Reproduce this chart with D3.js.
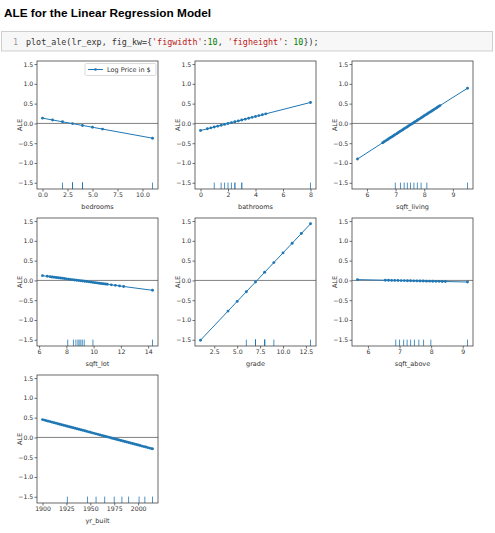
<!DOCTYPE html>
<html>
<head>
<meta charset="utf-8">
<script src="https://cdn.jsdelivr.net/npm/d3@7"></script>
<style>
  body { margin: 0; background: #fff; }
  svg text { font-family: "DejaVu Sans", sans-serif; }
</style>
</head>
<body>
<div id="chart"></div>
<script>
const WIDTH = 495;
const HEIGHT = 533;
const LINE_COLOR = "#1f77b4";
const AX_W = 121;
const AX_H = 128;
const COL_LEFT = [37, 195, 352];
const ROW_TOP = [61, 218, 375];

// ---- data ----
const features = ["bedrooms", "bathrooms", "sqft_living", "sqft_lot", "grade", "sqft_above", "yr_built"];

const bedroomsX = [0, 1, 2, 3, 4, 5, 6, 11];
const bedroomsAle = [0.133, 0.087, 0.041, -0.005, -0.051, -0.097, -0.143, -0.373];
const bedroomsRug = [2, 3, 3, 3, 3, 4, 4, 4, 4, 11];

const bathroomsX = [0, 0.5, 0.75, 1, 1.25, 1.5, 1.75, 2, 2.25, 2.5, 2.75, 3, 3.25, 3.5, 3.75, 4, 4.25, 4.5, 4.75, 8];
const bathroomsAle = [-0.180, -0.136, -0.113, -0.091, -0.069, -0.047, -0.025, -0.003, 0.020, 0.042,
  0.064, 0.086, 0.108, 0.131, 0.153, 0.175, 0.197, 0.219, 0.242, 0.530];
const bathroomsRug = [1, 1.5, 1.75, 2, 2.25, 2.5, 2.5, 3, 3, 8];

const sqftLivingX = [5.67, 6.55, 6.60, 6.65, 6.70, 6.75, 6.80, 6.85, 6.90, 6.95, 7.00, 7.05, 7.10, 7.15,
  7.20, 7.25, 7.30, 7.35, 7.40, 7.45, 7.50, 7.55, 7.60, 7.65, 7.70, 7.75, 7.80, 7.85, 7.90, 7.95,
  8.00, 8.05, 8.10, 8.15, 8.20, 8.25, 8.30, 8.35, 8.40, 8.45, 8.50, 8.55, 9.51];
const sqftLivingAle = [-0.900, -0.487, -0.464, -0.441, -0.417, -0.394, -0.370, -0.347, -0.323, -0.300,
  -0.276, -0.253, -0.230, -0.206, -0.183, -0.159, -0.136, -0.112, -0.089, -0.066, -0.042, -0.019,
  0.005, 0.028, 0.052, 0.075, 0.098, 0.122, 0.145, 0.169, 0.192, 0.216, 0.239, 0.263, 0.286,
  0.309, 0.333, 0.356, 0.380, 0.403, 0.427, 0.450, 0.890];
const sqftLivingRug = [6.99, 7.17, 7.30, 7.41, 7.52, 7.64, 7.76, 7.89, 8.09, 9.51];

const sqftLotX = [6.25, 6.6, 6.8, 6.95, 7.1, 7.25, 7.4, 7.55, 7.7, 7.85, 8.0, 8.15, 8.3, 8.45, 8.6,
  8.75, 8.9, 9.05, 9.2, 9.35, 9.5, 9.65, 9.8, 9.95, 10.1, 10.25, 10.4, 10.55, 10.7, 10.85, 11.0,
  11.3, 11.6, 11.9, 12.2, 14.32];
const sqftLotAle = [0.120, 0.104, 0.095, 0.088, 0.081, 0.074, 0.067, 0.060, 0.054, 0.047, 0.040,
  0.033, 0.026, 0.019, 0.012, 0.005, -0.002, -0.008, -0.015, -0.022, -0.029, -0.036, -0.043,
  -0.050, -0.057, -0.063, -0.070, -0.077, -0.084, -0.091, -0.098, -0.112, -0.125, -0.139, -0.153, -0.250];
const sqftLotRug = [8.10, 8.52, 8.70, 8.85, 8.94, 9.06, 9.17, 9.31, 9.95, 14.32];

const gradeX = [1, 4, 5, 6, 7, 8, 9, 10, 11, 12, 13];
const gradeAle = [-1.51, -0.775, -0.53, -0.285, -0.04, 0.205, 0.45, 0.695, 0.94, 1.185, 1.43];
const gradeRug = [6, 7, 7, 7, 7, 8, 8, 8, 9, 13];

const sqftAboveX = [5.67, 6.55, 6.65, 6.75, 6.85, 6.95, 7.05, 7.15, 7.25, 7.35, 7.45, 7.55, 7.65,
  7.75, 7.85, 7.95, 8.05, 8.15, 8.25, 8.35, 8.45, 9.15];
const sqftAboveAle = [0.020, 0.005, 0.003, 0.001, 0.000, -0.002, -0.004, -0.005, -0.007, -0.009,
  -0.011, -0.012, -0.014, -0.016, -0.018, -0.019, -0.021, -0.023, -0.024, -0.026, -0.028, -0.040];
const sqftAboveRug = [6.88, 7.00, 7.13, 7.24, 7.35, 7.47, 7.61, 7.76, 7.99, 9.15];

const yrBuiltX = [1900, 1902, 1904, 1906, 1908, 1910, 1912, 1914, 1916, 1918, 1920, 1922, 1924, 1926,
  1928, 1930, 1932, 1934, 1936, 1938, 1940, 1942, 1944, 1946, 1948, 1950, 1952, 1954, 1956, 1958,
  1960, 1962, 1964, 1966, 1968, 1970, 1972, 1974, 1976, 1978, 1980, 1982, 1984, 1986, 1988, 1990,
  1992, 1994, 1996, 1998, 2000, 2002, 2004, 2006, 2008, 2010, 2012, 2014, 2015];
const yrBuiltAle = [0.450, 0.437, 0.424, 0.411, 0.399, 0.386, 0.373, 0.360, 0.347, 0.334, 0.321,
  0.309, 0.296, 0.283, 0.270, 0.257, 0.244, 0.231, 0.219, 0.206, 0.193, 0.180, 0.167, 0.154,
  0.141, 0.129, 0.116, 0.103, 0.090, 0.077, 0.064, 0.051, 0.038, 0.026, 0.013, 0.000, -0.013,
  -0.026, -0.039, -0.052, -0.064, -0.077, -0.090, -0.103, -0.116, -0.129, -0.142, -0.154, -0.167,
  -0.180, -0.193, -0.206, -0.219, -0.232, -0.244, -0.257, -0.270, -0.283, -0.289];
const yrBuiltRug = [1926, 1947, 1956, 1965, 1975, 1983, 1990, 2001, 2007, 2015];

// tick values
const bedroomsTicks = [0, 2.5, 5, 7.5, 10];
const bathroomsTicks = [0, 2, 4, 6, 8];
const sqftLivingTicks = [6, 7, 8, 9];
const sqftLotTicks = [6, 8, 10, 12, 14];
const gradeTicks = [2.5, 5, 7.5, 10, 12.5];
const sqftAboveTicks = [6, 7, 8, 9];
const yrBuiltTicks = [1900, 1925, 1950, 1975, 2000];
const aleTicks = [-1.5, -1.0, -0.5, 0, 0.5, 1.0, 1.5];

const panels = [
  { x: bedroomsX, y: bedroomsAle, rug: bedroomsRug, ticks: bedroomsTicks, fmt: ".1f" },
  { x: bathroomsX, y: bathroomsAle, rug: bathroomsRug, ticks: bathroomsTicks, fmt: "d" },
  { x: sqftLivingX, y: sqftLivingAle, rug: sqftLivingRug, ticks: sqftLivingTicks, fmt: "d" },
  { x: sqftLotX, y: sqftLotAle, rug: sqftLotRug, ticks: sqftLotTicks, fmt: "d" },
  { x: gradeX, y: gradeAle, rug: gradeRug, ticks: gradeTicks, fmt: ".1f" },
  { x: sqftAboveX, y: sqftAboveAle, rug: sqftAboveRug, ticks: sqftAboveTicks, fmt: "d" },
  { x: yrBuiltX, y: yrBuiltAle, rug: yrBuiltRug, ticks: yrBuiltTicks, fmt: "d" }
].map((p, i) => ({ ...p, name: features[i], row: Math.floor(i / 3), col: i % 3 }));

// matplotlib-style 5% margins
function padded(ext) {
  const m = (ext[1] - ext[0]) * 0.05;
  return [ext[0] - m, ext[1] + m];
}

const yDomain = padded(d3.extent(panels.flatMap(p => p.y)));

const svg = d3.select("#chart")
  .append("svg")
  .attr("width", WIDTH)
  .attr("height", HEIGHT);

// ---- notebook header ----
svg.append("text")
  .attr("x", 4)
  .attr("y", 16.5)
  .style("font-family", "'Liberation Sans', Arial, sans-serif")
  .style("font-weight", "bold")
  .style("font-size", "11.8px")
  .attr("fill", "#000")
  .text("ALE for the Linear Regression Model");

svg.append("rect")
  .attr("x", 1.5).attr("y", 31.5)
  .attr("width", 491).attr("height", 19.5)
  .attr("fill", "#f7f7f7")
  .attr("stroke", "#cfcfcf");

svg.append("text")
  .attr("x", 13).attr("y", 44.5)
  .style("font-family", "'DejaVu Sans Mono', monospace")
  .style("font-size", "8.4px")
  .attr("fill", "#999")
  .text("1");

const codeParts = [
  ["plot_ale(lr_exp, fig_kw={", "#333"],
  ["'figwidth'", "#ba2121"],
  [":", "#333"],
  ["10", "#008000"],
  [", ", "#333"],
  ["'figheight'", "#ba2121"],
  [": ", "#333"],
  ["10", "#008000"],
  ["});", "#333"]
];
svg.append("text")
  .attr("x", 26).attr("y", 44.5)
  .style("font-family", "'DejaVu Sans Mono', monospace")
  .style("font-size", "8.4px")
  .attr("xml:space", "preserve")
  .style("white-space", "pre")
  .selectAll("tspan")
  .data(codeParts)
  .join("tspan")
  .attr("fill", d => d[1])
  .text(d => d[0]);

// ---- panels ----
panels.forEach((p, i) => {
  const g = svg.append("g")
    .attr("transform", `translate(${COL_LEFT[p.col]},${ROW_TOP[p.row]})`);

  const x = d3.scaleLinear().domain(padded(d3.extent(p.x))).range([0, AX_W]);
  const y = d3.scaleLinear().domain(yDomain).range([AX_H, 0]);

  g.append("line")
    .attr("x1", 0).attr("x2", AX_W)
    .attr("y1", y(0)).attr("y2", y(0))
    .attr("stroke", "#808080")
    .attr("stroke-width", 1);

  const pts = d3.zip(p.x, p.y);
  g.append("path")
    .datum(pts)
    .attr("d", d3.line().x(d => x(d[0])).y(d => y(d[1])))
    .attr("fill", "none")
    .attr("stroke", LINE_COLOR)
    .attr("stroke-width", 1);

  g.selectAll("circle")
    .data(pts)
    .join("circle")
    .attr("cx", d => x(d[0]))
    .attr("cy", d => y(d[1]))
    .attr("r", 1.45)
    .attr("fill", LINE_COLOR);

  // deciles rug
  g.selectAll("line.rug")
    .data(p.rug)
    .join("line")
    .attr("class", "rug")
    .attr("x1", d => x(d)).attr("x2", d => x(d))
    .attr("y1", AX_H).attr("y2", AX_H * 0.95)
    .attr("stroke", LINE_COLOR)
    .attr("stroke-width", 0.8);

  const xAxis = d3.axisBottom(x)
    .tickValues(p.ticks)
    .tickFormat(d3.format(p.fmt))
    .tickSize(2.5)
    .tickPadding(1.5)
    .tickSizeOuter(0);
  const yAxis = d3.axisLeft(y)
    .tickValues(aleTicks)
    .tickFormat(d3.format(".1f"))
    .tickSize(2.5)
    .tickPadding(1.2)
    .tickSizeOuter(0);

  [g.append("g").attr("transform", `translate(0,${AX_H})`).call(xAxis),
   g.append("g").call(yAxis)].forEach(a => {
    a.select(".domain").remove();
    a.attr("font-family", null).attr("font-size", null);
    a.selectAll("line").attr("stroke", "#333").attr("stroke-width", 0.7);
    a.selectAll("text").attr("fill", "#333").style("font-size", "6.2px");
  });

  g.append("rect")
    .attr("width", AX_W).attr("height", AX_H)
    .attr("fill", "none")
    .attr("stroke", "#444")
    .attr("stroke-width", 0.8);

  g.append("text")
    .attr("x", AX_W / 2).attr("y", AX_H + 19.5)
    .attr("text-anchor", "middle")
    .attr("fill", "#333")
    .style("font-size", "6.5px")
    .text(p.name);

  g.append("text")
    .attr("transform", `translate(-15.5,${AX_H / 2}) rotate(-90)`)
    .attr("text-anchor", "middle")
    .attr("fill", "#333")
    .style("font-size", "6.5px")
    .text("ALE");

  if (i === 0) {
    const lg = g.append("g").attr("transform", `translate(${AX_W - 73},2.5)`);
    lg.append("rect")
      .attr("width", 71).attr("height", 12)
      .attr("rx", 1.5)
      .attr("fill", "#fff").attr("fill-opacity", 0.8)
      .attr("stroke", "#ccc").attr("stroke-width", 0.7);
    lg.append("line")
      .attr("x1", 3).attr("x2", 18).attr("y1", 6).attr("y2", 6)
      .attr("stroke", LINE_COLOR).attr("stroke-width", 1);
    lg.append("circle")
      .attr("cx", 10.5).attr("cy", 6).attr("r", 1.3)
      .attr("fill", LINE_COLOR);
    lg.append("text")
      .attr("x", 22).attr("y", 8.4)
      .attr("fill", "#333")
      .style("font-size", "6.5px")
      .text("Log Price in $");
  }
});
</script>
</body>
</html>
